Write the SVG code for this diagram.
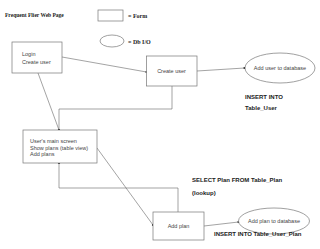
<svg xmlns="http://www.w3.org/2000/svg" width="320" height="249" viewBox="0 0 320 249">
<defs>
<marker id="dot" markerWidth="4" markerHeight="4" refX="2" refY="2" markerUnits="userSpaceOnUse">
<circle cx="2" cy="2" r="1.1" fill="#222"/>
</marker>
<style>
.box{fill:#fff;stroke:#777;stroke-width:0.7}
.lbl{font-family:"Liberation Sans",Arial,sans-serif;font-size:5.5px;fill:#444}
.note{font-family:"Liberation Sans",Arial,sans-serif;font-size:6px;font-weight:bold;fill:#222}
.leg{font-family:"Liberation Serif","Times New Roman",serif;font-size:6px;font-weight:bold;fill:#222}
.conn{fill:none;stroke:#666;stroke-width:0.6;marker-end:url(#dot)}
</style>
</defs>
<rect width="320" height="249" fill="#fff"/>
<text class="leg" x="5" y="17" style="font-size:5.5px">Frequent Flier Web Page</text>
<g id="legend">
<rect class="box" x="98" y="10" width="25" height="11"/>
<text class="leg" x="128" y="18">= Form</text>
<ellipse class="box" cx="112" cy="41" rx="12" ry="6"/>
<text class="leg" x="128" y="44">= Db I/O</text>
</g>
<g id="connectors">
<line class="conn" x1="62" y1="57" x2="146.5" y2="72"/>
<line class="conn" x1="197" y1="71" x2="244.5" y2="68"/>
<polyline class="conn" points="172,86 172,109 59,109 59,130"/>
<line class="conn" x1="38" y1="73" x2="59" y2="130"/>
<line class="conn" x1="97" y1="148" x2="153" y2="225"/>
<polyline class="conn" points="178,212 178,188 59,188 59,163"/>
<line class="conn" x1="204" y1="226" x2="238.5" y2="222"/>
</g>
<g id="login">
<rect class="box" x="12" y="42" width="50" height="31"/>
<text class="lbl" x="22" y="56">Login</text>
<text class="lbl" x="22" y="63.5">Create user</text>
</g>
<g id="create-user">
<rect class="box" x="146.5" y="56" width="50.5" height="30"/>
<text class="lbl" x="171.5" y="73" text-anchor="middle">Create user</text>
</g>
<g id="add-user-db">
<ellipse class="box" cx="280" cy="68" rx="35" ry="15"/>
<text class="lbl" x="280" y="70" text-anchor="middle">Add user to database</text>
</g>
<text class="note" x="245" y="99">INSERT INTO</text>
<text class="note" x="245" y="110">Table_User</text>
<g id="main-screen">
<rect class="box" x="23" y="130" width="74" height="33"/>
<text class="lbl" x="30" y="143">User's main screen</text>
<text class="lbl" x="30" y="149.5">Show plans (table view)</text>
<text class="lbl" x="30" y="156">Add plans</text>
</g>
<text class="note" x="192" y="182">SELECT Plan FROM Table_Plan</text>
<text class="note" x="192" y="195">(lookup)</text>
<g id="add-plan">
<rect class="box" x="153" y="212" width="51" height="28"/>
<text class="lbl" x="178.5" y="228" text-anchor="middle">Add plan</text>
</g>
<g id="add-plan-db">
<ellipse class="box" cx="274" cy="221" rx="35.5" ry="13"/>
<text class="lbl" x="274" y="223" text-anchor="middle">Add plan to database</text>
</g>
<text class="note" x="214" y="236">INSERT INTO Table_User_Plan</text>
</svg>
